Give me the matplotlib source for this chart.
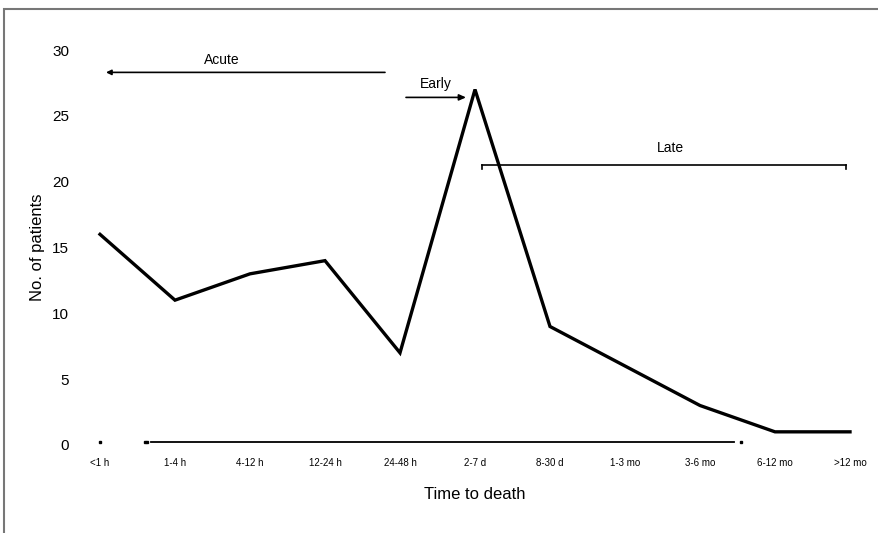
import matplotlib.pyplot as plt
from matplotlib.patches import Rectangle

plt.rcParams["font.family"] = ["Liberation Sans", "DejaVu Sans"]

categories = ["<1 h", "1-4 h", "4-12 h", "12-24 h", "24-48 h", "2-7 d",
              "8-30 d", "1-3 mo", "3-6 mo", "6-12 mo", ">12 mo"]
patients = [16, 11, 13, 14, 7, 27, 9, 6, 3, 1, 1]
y_ticks = [0, 5, 10, 15, 20, 25, 30]

W, H = 879, 533
fig = plt.figure(figsize=(W / 100, H / 100), dpi=100)

# axes placed so category 0 sits at x=100px and y=0 at 445px
x0, x1 = -0.15, 10.15
left_px = 100 - 0.15 * 75
width_px = (x1 - x0) * 75
ax = fig.add_axes([left_px / W, (H - 445) / H, width_px / W, 395 / H])

x = list(range(len(categories)))
ax.plot(x, patients, color="black", lw=2.4, solid_joinstyle="miter", clip_on=False)

ax.set_xlim(x0, x1)
ax.set_ylim(0, 30)
for s in ax.spines.values():
    s.set_visible(False)
ax.set_xticks(x)
ax.set_xticklabels(categories, fontsize=7)
ax.set_yticks(y_ticks)
ax.set_yticklabels([str(v) for v in y_ticks], fontsize=11)
ax.tick_params(axis="x", length=0, pad=9)
ax.tick_params(axis="y", length=0, pad=14)
ax.set_xlabel("Time to death", fontsize=12, labelpad=14)
ax.set_ylabel("No. of patients", fontsize=12, labelpad=5)

# broken baseline under the plot
ax.plot([0.68, 8.45], [0.2, 0.2], color="black", lw=1.3, clip_on=False)
ax.plot([0.0, 0.6, 0.63, 8.55], [0.2] * 4, ls="none", marker="s", ms=1.5,
        color="black", clip_on=False)

# phase annotations
ax.annotate("", xy=(0.08, 28.3), xytext=(3.8, 28.3),
            arrowprops=dict(arrowstyle="-|>,head_length=0.3,head_width=0.15",
                            color="black", lw=1.2, shrinkA=0, shrinkB=0))
ax.text(1.62, 28.7, "Acute", fontsize=10, ha="center", va="bottom")

ax.annotate("", xy=(4.88, 26.4), xytext=(4.08, 26.4),
            arrowprops=dict(arrowstyle="-|>,head_length=0.4,head_width=0.18",
                            color="black", lw=1.2, shrinkA=0, shrinkB=0))
ax.text(4.48, 26.9, "Early", fontsize=10, ha="center", va="bottom")

ax.plot([5.1, 9.95], [21.3, 21.3], color="black", lw=1.2)
ax.plot([5.1, 5.1], [21.0, 21.3], color="black", lw=1.2)
ax.plot([9.95, 9.95], [21.0, 21.3], color="black", lw=1.2)
ax.text(7.6, 22.0, "Late", fontsize=10, ha="center", va="bottom")

# frame around the figure
fig.patches.append(Rectangle((4 / W, -0.05), 1.1, (H - 9) / H + 0.05,
                             transform=fig.transFigure, fill=False,
                             edgecolor="#777777", lw=1.5))

fig.savefig("out.png", dpi=100)
